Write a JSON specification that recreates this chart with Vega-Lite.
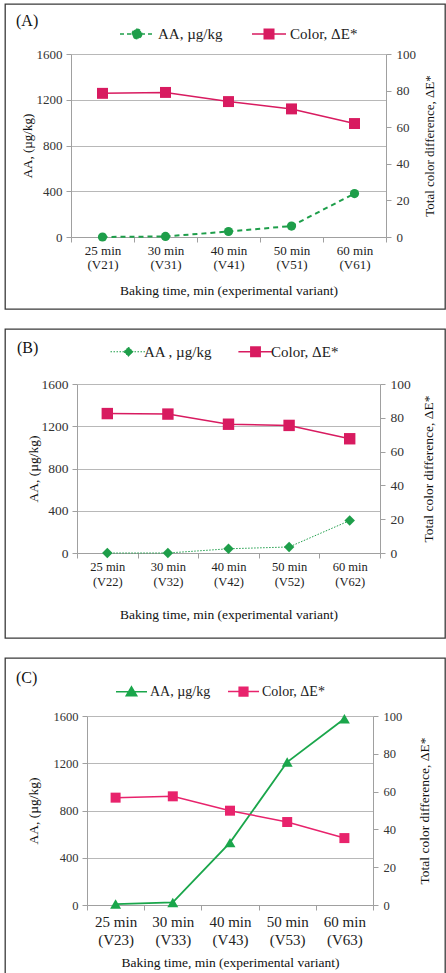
{
  "$schema": "https://vega.github.io/schema/vega-lite/v6.json",
  "padding": {"left": 4, "top": 3, "right": 2, "bottom": 0},
  "background": "white",
  "spacing": 18,
  "config": {
    "font": "Liberation Serif",
    "view": {"stroke": "#3a3a3a", "strokeWidth": 1.3},
    "axis": {"labelFont": "Liberation Serif", "titleFont": "Liberation Serif", "labelColor": "#333", "titleColor": "#111", "titleFontWeight": "normal", "domainColor": "#a0a0a0", "tickColor": "#a0a0a0", "gridColor": "#b8b8b8", "tickSize": 5},
    "legend": {"labelFont": "Liberation Serif", "labelColor": "#222"},
    "title": {"font": "Liberation Serif", "fontWeight": "normal", "color": "#111"}
  },
  "datasets": {
    "A": [
      {"t": "25 min (V21)", "AA": 0, "Color": 78.5},
      {"t": "30 min (V31)", "AA": 5, "Color": 79},
      {"t": "40 min (V41)", "AA": 48, "Color": 74},
      {"t": "50 min (V51)", "AA": 96, "Color": 70},
      {"t": "60 min (V61)", "AA": 380, "Color": 62}
    ],
    "B": [
      {"t": "25 min (V22)", "AA": 0, "Color": 82.5},
      {"t": "30 min (V32)", "AA": 0, "Color": 82.2},
      {"t": "40 min (V42)", "AA": 40, "Color": 76.2},
      {"t": "50 min (V52)", "AA": 57, "Color": 75.5},
      {"t": "60 min (V62)", "AA": 307, "Color": 67.6}
    ],
    "C": [
      {"t": "25 min (V23)", "AA": 8, "Color": 56.8},
      {"t": "30 min (V33)", "AA": 22, "Color": 57.5},
      {"t": "40 min (V43)", "AA": 528, "Color": 49.9},
      {"t": "50 min (V53)", "AA": 1210, "Color": 43.9},
      {"t": "60 min (V63)", "AA": 1577, "Color": 35.4}
    ]
  },
  "resolve": {"scale": {"x": "independent", "y": "independent", "color": "independent"}, "legend": {"color": "independent"}},
  "vconcat": [
    {
      "width": 440, "height": 305,
      "data": {"name": "A"},
      "title": {"text": "(A)", "anchor": "start", "frame": "group", "offset": -25, "dx": 11, "fontSize": 16},
      "encoding": {
        "x": {"field": "t", "type": "nominal", "sort": null,
          "scale": {"type": "band", "range": [66, 381], "paddingInner": 0, "paddingOuter": 0},
          "axis": {"offset": -72, "labelAngle": 0, "tickBand": "extent", "labelExpr": "[slice(datum.label,0,6), slice(datum.label,7)]", "labelFontSize": 13, "labelLineHeight": 14, "labelPadding": 2, "labelColor": "#222", "title": "Baking time, min (experimental variant)", "titleFontSize": 13.5, "titleFontWeight": "normal", "titleY": 53, "titleBaseline": "middle", "grid": false}}
      },
      "layer": [
        {
          "mark": {"type": "line", "color": "#1e9e4a", "strokeWidth": 2, "strokeDash": [5, 4], "point": {"filled": true, "shape": "circle", "size": 85, "color": "#1fa14b"}},
          "encoding": {
            "y": {"field": "AA", "type": "quantitative", "scale": {"domain": [0, 1600], "range": [233, 50], "nice": false},
              "axis": {"orient": "left", "offset": -66, "values": [0, 400, 800, 1200, 1600], "format": "d", "grid": true, "labelFontSize": 13, "labelPadding": 4, "title": "AA, (µg/kg)", "titleFontSize": 13, "titleFontWeight": "normal", "titleX": -44, "titleBaseline": "middle", "titleAngle": 270}},
            "color": {"datum": "AA, µg/kg", "type": "nominal",
              "scale": {"domain": ["AA, µg/kg", "Color, ΔE*"], "range": ["#1e9e4a", "#d81b60"]},
              "legend": {"title": null, "orient": "none", "legendX": 114, "legendY": 12, "direction": "horizontal", "symbolSize": 1156, "labelFontSize": 15, "labelOffset": 3, "columnPadding": 26, "symbolStrokeWidth": 1.5,
                "encode": {"symbols": {"update": {
                  "shape": {"signal": "datum.value === 'AA, µg/kg' ? 'M-1,0H1M0.28,0A0.28,0.28,0,1,1,-0.28,0A0.28,0.28,0,1,1,0.28,0Z' : 'M-1,0H1M-0.28,-0.28H0.28V0.28H-0.28Z'"},
                  "fill": {"signal": "datum.value === 'AA, µg/kg' ? '#1fa14b' : '#e0186a'"},
                  "stroke": {"signal": "datum.value === 'AA, µg/kg' ? '#1e9e4a' : '#c81a5c'"},
                  "strokeDash": {"signal": "datum.value === 'AA, µg/kg' ? [4,3] : [1,0]"},
                  "opacity": {"value": 1}
                }}}}}
          }
        },
        {
          "mark": {"type": "line", "color": "#c81a5c", "strokeWidth": 1.5, "point": {"filled": true, "shape": "square", "size": 120, "color": "#e0186a"}},
          "encoding": {
            "y": {"field": "Color", "type": "quantitative", "scale": {"domain": [0, 100], "range": [233, 50], "nice": false},
              "axis": {"orient": "right", "offset": -59, "values": [0, 20, 40, 60, 80, 100], "format": "d", "grid": false, "labelFontSize": 13, "labelPadding": 5, "title": "Total color difference, ΔE*", "titleFontSize": 13, "titleFontWeight": "normal", "titleX": 43, "titleBaseline": "middle", "titleAngle": 270}},
            "color": {"datum": "Color, ΔE*", "type": "nominal"}
          }
        }
      ],
      "resolve": {"scale": {"y": "independent"}}
    },
    {
      "width": 440, "height": 309,
      "data": {"name": "B"},
      "title": {"text": "(B)", "anchor": "start", "frame": "group", "offset": -27, "dx": 12, "fontSize": 16},
      "encoding": {
        "x": {"field": "t", "type": "nominal", "sort": null,
          "scale": {"type": "band", "range": [72, 375], "paddingInner": 0, "paddingOuter": 0},
          "axis": {"offset": -85, "labelAngle": 0, "tickBand": "extent", "labelExpr": "[slice(datum.label,0,6), slice(datum.label,7)]", "labelFontSize": 12.5, "labelLineHeight": 15, "labelPadding": 2, "labelColor": "#222", "title": "Baking time, min (experimental variant)", "titleFontSize": 13.5, "titleFontWeight": "normal", "titleY": 61, "titleBaseline": "middle", "grid": false}}
      },
      "layer": [
        {
          "mark": {"type": "line", "color": "#1e9e4a", "strokeWidth": 1, "strokeDash": [1.5, 1.5], "point": {"filled": true, "shape": "diamond", "size": 110, "color": "#1c9e4f"}},
          "encoding": {
            "y": {"field": "AA", "type": "quantitative", "scale": {"domain": [0, 1600], "range": [224, 55], "nice": false},
              "axis": {"orient": "left", "offset": -72, "values": [0, 400, 800, 1200, 1600], "format": "d", "grid": true, "labelFontSize": 13.5, "labelPadding": 4, "title": "AA, (µg/kg)", "titleFontSize": 13.5, "titleFontWeight": "normal", "titleX": -44, "titleBaseline": "middle", "titleAngle": 270}},
            "color": {"datum": "AA , µg/kg", "type": "nominal",
              "scale": {"domain": ["AA , µg/kg", "Color, ΔE*"], "range": ["#1e9e4a", "#d81b60"]},
              "legend": {"title": null, "orient": "none", "legendX": 116, "legendY": 15, "direction": "horizontal", "symbolSize": 1296, "labelFontSize": 15, "labelOffset": 8, "columnPadding": 22, "symbolStrokeWidth": 1.5,
                "encode": {"symbols": {"update": {
                  "shape": {"signal": "datum.value === 'AA , µg/kg' ? 'M-1,0H1M0,-0.26L0.26,0L0,0.26L-0.26,0Z' : 'M-0.95,0H0.95M-0.26,-0.26H0.26V0.26H-0.26Z'"},
                  "fill": {"signal": "datum.value === 'AA , µg/kg' ? '#1c9e4f' : '#e0186a'"},
                  "stroke": {"signal": "datum.value === 'AA , µg/kg' ? '#1e9e4a' : '#c81a5c'"},
                  "strokeDash": {"signal": "datum.value === 'AA , µg/kg' ? [1.5,1.5] : [1,0]"},
                  "strokeWidth": {"signal": "datum.value === 'AA , µg/kg' ? 1 : 1.5"},
                  "opacity": {"value": 1}
                }}}}}
          }
        },
        {
          "mark": {"type": "line", "color": "#c81a5c", "strokeWidth": 1.5, "point": {"filled": true, "shape": "square", "size": 130, "color": "#e0186a"}},
          "encoding": {
            "y": {"field": "Color", "type": "quantitative", "scale": {"domain": [0, 100], "range": [224, 55], "nice": false},
              "axis": {"orient": "right", "offset": -65, "values": [0, 20, 40, 60, 80, 100], "format": "d", "grid": false, "labelFontSize": 13.5, "labelPadding": 5, "title": "Total color difference,  ΔE*", "titleFontSize": 13.5, "titleFontWeight": "normal", "titleX": 48, "titleBaseline": "middle", "titleAngle": 270}},
            "color": {"datum": "Color, ΔE*", "type": "nominal"}
          }
        }
      ],
      "resolve": {"scale": {"y": "independent"}}
    },
    {
      "width": 440, "height": 319,
      "data": {"name": "C"},
      "title": {"text": "(C)", "anchor": "start", "frame": "group", "offset": -28, "dx": 11, "fontSize": 16},
      "encoding": {
        "x": {"field": "t", "type": "nominal", "sort": null,
          "scale": {"type": "band", "range": [82, 368], "paddingInner": 0, "paddingOuter": 0},
          "axis": {"offset": -72, "labelAngle": 0, "tickBand": "extent", "labelExpr": "[slice(datum.label,0,6), slice(datum.label,7)]", "labelFontSize": 15, "labelLineHeight": 18, "labelPadding": 4, "labelColor": "#222", "title": "Baking time, min (experimental variant)", "titleFontSize": 13.5, "titleFontWeight": "normal", "titleY": 57, "titleBaseline": "middle", "grid": false}}
      },
      "layer": [
        {
          "mark": {"type": "line", "color": "#1aa64b", "strokeWidth": 1.8, "point": {"filled": true, "shape": "triangle-up", "size": 120, "color": "#19a84a"}},
          "encoding": {
            "y": {"field": "AA", "type": "quantitative", "scale": {"domain": [0, 1600], "range": [247, 58], "nice": false},
              "axis": {"orient": "left", "offset": -82, "values": [0, 400, 800, 1200, 1600], "format": "d", "grid": true, "labelFontSize": 12.5, "labelPadding": 4, "title": "AA, (µg/kg)", "titleFontSize": 13.5, "titleFontWeight": "normal", "titleX": -54, "titleBaseline": "middle", "titleAngle": 270}},
            "color": {"datum": "AA, µg/kg", "type": "nominal",
              "scale": {"domain": ["AA, µg/kg", "Color, ΔE*"], "range": ["#1aa64b", "#e8236c"]},
              "legend": {"title": null, "orient": "none", "legendX": 110, "legendY": 17, "direction": "horizontal", "symbolSize": 961, "labelFontSize": 14, "labelOffset": 2, "columnPadding": 14, "symbolStrokeWidth": 1.5,
                "encode": {"symbols": {"update": {
                  "shape": {"signal": "datum.value === 'AA, µg/kg' ? 'M-1,0H1M0,-0.32L0.34,0.26H-0.34Z' : 'M-1,0H1M-0.28,-0.28H0.28V0.28H-0.28Z'"},
                  "fill": {"signal": "datum.value === 'AA, µg/kg' ? '#19a84a' : '#e8236c'"},
                  "stroke": {"signal": "datum.value === 'AA, µg/kg' ? '#1aa64b' : '#e8236c'"},
                  "opacity": {"value": 1}
                }}}}}
          }
        },
        {
          "mark": {"type": "line", "color": "#e8236c", "strokeWidth": 1.5, "point": {"filled": true, "shape": "square", "size": 100, "color": "#e8236c"}},
          "encoding": {
            "y": {"field": "Color", "type": "quantitative", "scale": {"domain": [0, 100], "range": [247, 58], "nice": false},
              "axis": {"orient": "right", "offset": -72, "values": [0, 20, 40, 60, 80, 100], "format": "d", "grid": false, "labelFontSize": 12.5, "labelPadding": 5, "title": "Total color difference, ΔE*", "titleFontSize": 13.5, "titleFontWeight": "normal", "titleX": 51, "titleBaseline": "middle", "titleAngle": 270}},
            "color": {"datum": "Color, ΔE*", "type": "nominal"}
          }
        }
      ],
      "resolve": {"scale": {"y": "independent"}}
    }
  ]
}
